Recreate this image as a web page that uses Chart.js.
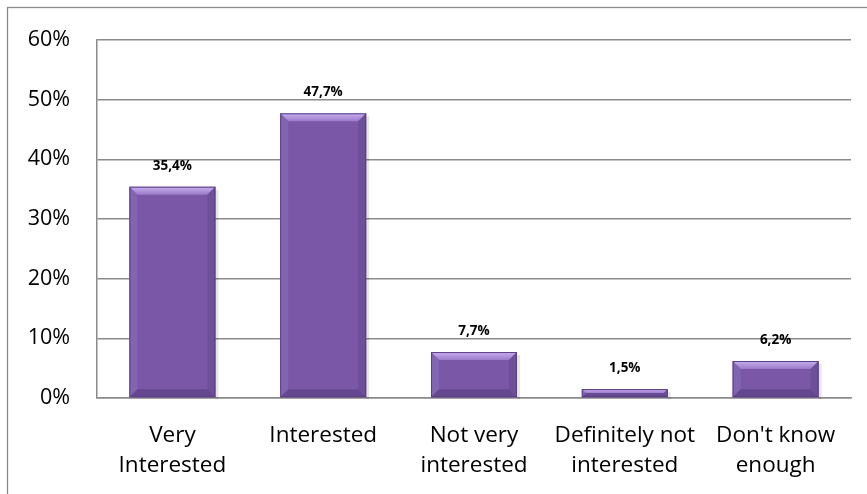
<!DOCTYPE html>
<html>
<head>
<meta charset="utf-8">
<script src="https://cdn.jsdelivr.net/npm/chart.js@4"></script>
<style>
  html, body { margin: 0; padding: 0; background: #fff; }
  #wrap { width: 867px; height: 494px; position: relative; }
</style>
</head>
<body>
<div id="wrap"><canvas id="chart" width="867" height="494"></canvas></div>
<script>
const categories = [
  ['Very', 'Interested'],
  'Interested',
  ['Not very', 'interested'],
  ['Definitely not', 'interested'],
  ["Don't know", 'enough'],
]
const shares = [35.4, 47.7, 7.7, 1.5, 6.2]
const yTicks = [0, 10, 20, 30, 40, 50, 60]

const FONT = '"Open Sans", Lato, sans-serif'

const formatPct = (v) => v.toFixed(1).replace('.', ',') + '%'

// outer frame, only top and left edges are visible in the picture
const framePlugin = {
  id: 'frame',
  beforeDraw(chart) {
    const { ctx } = chart
    ctx.save()
    ctx.strokeStyle = '#8a8a8a'
    ctx.lineWidth = 1.3
    ctx.strokeRect(7.5, 7.5, chart.width + 20, chart.height + 20)
    ctx.restore()
  },
}

// bevelled bar look + value labels
const bevelPlugin = {
  id: 'bevel',
  afterDatasetsDraw(chart) {
    const { ctx } = chart
    const meta = chart.getDatasetMeta(0)
    meta.data.forEach((bar, i) => {
      const left = bar.x - bar.width / 2
      const right = bar.x + bar.width / 2
      const top = bar.y
      const bottom = bar.base
      const h = bottom - top
      const b = Math.min(8, h / 2)

      ctx.save()
      // soft drop shadow at right
      ctx.fillStyle = 'rgba(0,0,0,0.10)'
      ctx.fillRect(right, top + 3, 3, h - 1)

      // top bevel
      ctx.beginPath()
      ctx.moveTo(left, top)
      ctx.lineTo(right, top)
      ctx.lineTo(right - b, top + b)
      ctx.lineTo(left + b, top + b)
      ctx.closePath()
      const tg = ctx.createLinearGradient(0, top, 0, top + b)
      tg.addColorStop(0, '#c9b0f2')
      tg.addColorStop(1, '#9a7ac8')
      ctx.fillStyle = tg
      ctx.fill()

      // left bevel
      ctx.beginPath()
      ctx.moveTo(left, top)
      ctx.lineTo(left + b, top + b)
      ctx.lineTo(left + b, bottom - b)
      ctx.lineTo(left, bottom)
      ctx.closePath()
      ctx.fillStyle = 'rgba(135,105,182,0.7)'
      ctx.fill()

      // right bevel
      ctx.beginPath()
      ctx.moveTo(right, top)
      ctx.lineTo(right - b, top + b)
      ctx.lineTo(right - b, bottom - b)
      ctx.lineTo(right, bottom)
      ctx.closePath()
      ctx.fillStyle = '#6e4f9a'
      ctx.fill()

      // bottom bevel
      ctx.beginPath()
      ctx.moveTo(left, bottom)
      ctx.lineTo(left + b, bottom - b)
      ctx.lineTo(right - b, bottom - b)
      ctx.lineTo(right, bottom)
      ctx.closePath()
      ctx.fillStyle = '#65478f'
      ctx.fill()

      // outline
      ctx.strokeStyle = '#5a3f84'
      ctx.lineWidth = 1
      ctx.strokeRect(left + 0.5, top + 0.5, bar.width - 1, h - 1)

      // value label
      ctx.fillStyle = '#000'
      ctx.font = 'bold 13.5px ' + FONT
      ctx.textAlign = 'center'
      ctx.textBaseline = 'middle'
      ctx.fillText(formatPct(shares[i]), bar.x, top - 21)
      ctx.restore()
    })
  },
}

const ctx = document.getElementById('chart').getContext('2d')

new Chart(ctx, {
  type: 'bar',
  data: {
    labels: categories,
    datasets: [
      {
        data: shares,
        backgroundColor: '#7b58a7',
        borderWidth: 0,
        categoryPercentage: 1,
        barPercentage: 0.57,
      },
    ],
  },
  options: {
    responsive: false,
    animation: false,
    events: [],
    layout: {
      padding: { top: 37, right: 16, bottom: 0, left: 0 },
    },
    plugins: {
      legend: { display: false },
      tooltip: { enabled: false },
    },
    scales: {
      x: {
        grid: { display: false, drawTicks: false },
        border: { color: '#8a8a8a', width: 1.5 },
        ticks: {
          color: '#000',
          padding: 22,
          maxRotation: 0,
          autoSkip: false,
          font: { family: FONT, size: 22.5, lineHeight: 1.36 },
        },
        afterFit(scale) {
          scale.height = 96
        },
      },
      y: {
        min: 0,
        max: 60,
        afterBuildTicks(scale) {
          scale.ticks = yTicks.map((value) => ({ value }))
        },
        grid: { color: '#8a8a8a', lineWidth: 1.5, drawTicks: false },
        border: { color: '#8a8a8a', width: 1.5 },
        ticks: {
          color: '#000',
          padding: 27,
          font: { family: FONT, size: 21.5 },
          callback: (v) => v + '%',
        },
        afterFit(scale) {
          scale.width = 97
        },
      },
    },
  },
  plugins: [framePlugin, bevelPlugin],
})
</script>
</body>
</html>
